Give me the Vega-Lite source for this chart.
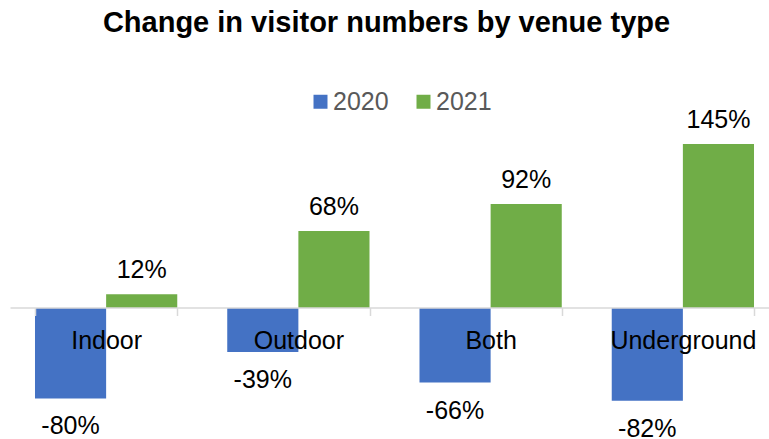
{
  "$schema": "https://vega.github.io/schema/vega-lite/v6.json",
  "width": 769,
  "height": 294,
  "autosize": {"type": "none"},
  "padding": {"left": 10, "top": 127, "right": 0, "bottom": 18},
  "background": "white",
  "title": {
    "text": "Change in visitor numbers by venue type",
    "font": "Liberation Sans",
    "fontSize": 29,
    "fontWeight": "bold",
    "color": "#000000",
    "anchor": "middle",
    "frame": "group",
    "dx": -8,
    "offset": 0,
    "dy": -51
  },
  "data": {
    "values": [
      {"venue": "Indoor", "year": "2020", "change": -0.80},
      {"venue": "Indoor", "year": "2021", "change": 0.12},
      {"venue": "Outdoor", "year": "2020", "change": -0.39},
      {"venue": "Outdoor", "year": "2021", "change": 0.68},
      {"venue": "Both", "year": "2020", "change": -0.66},
      {"venue": "Both", "year": "2021", "change": 0.92},
      {"venue": "Underground", "year": "2020", "change": -0.82},
      {"venue": "Underground", "year": "2021", "change": 1.45}
    ]
  },
  "encoding": {
    "x": {
      "field": "venue",
      "type": "nominal",
      "sort": ["Indoor", "Outdoor", "Both", "Underground"],
      "scale": {"paddingInner": 0.26, "paddingOuter": 0.13},
      "axis": {
        "title": null,
        "orient": "bottom",
        "offset": -113.5,
        "zindex": 1,
        "tickBand": "extent",
        "tickSize": 8,
        "tickColor": "#d9d9d9",
        "tickWidth": 1.5,
        "domainColor": "#d9d9d9",
        "domainWidth": 1.5,
        "labelAngle": 0,
        "labelFont": "Liberation Sans",
        "labelFontSize": 25,
        "labelColor": "#000000",
        "labelPadding": 13
      }
    },
    "xOffset": {"field": "year", "type": "nominal", "scale": {"paddingInner": 0, "paddingOuter": 0}},
    "y": {
      "field": "change",
      "type": "quantitative",
      "scale": {"domain": [-1.0, 1.6], "nice": false, "zero": true},
      "axis": null
    }
  },
  "layer": [
    {
      "mark": {"type": "bar"},
      "encoding": {
        "color": {
          "field": "year",
          "type": "nominal",
          "scale": {"domain": ["2020", "2021"], "range": ["#4472C4", "#70AD47"]},
          "legend": {
            "title": null,
            "orient": "none",
            "legendX": 298,
            "legendY": -38,
            "direction": "horizontal",
            "symbolType": "square",
            "symbolSize": 196,
            "symbolStrokeWidth": 0,
            "labelFont": "Liberation Sans",
            "labelFontSize": 25,
            "labelColor": "#595959",
            "labelOffset": 0,
            "columnPadding": 22
          }
        }
      }
    },
    {
      "transform": [{"filter": "datum.year === '2021'"}],
      "mark": {"type": "text", "font": "Liberation Sans", "fontSize": 25, "color": "#000000", "baseline": "alphabetic", "dy": -16},
      "encoding": {"text": {"field": "change", "type": "quantitative", "format": ".0%"}}
    },
    {
      "transform": [{"filter": "datum.year === '2020'"}],
      "mark": {"type": "text", "font": "Liberation Sans", "fontSize": 25, "color": "#000000", "baseline": "alphabetic", "dy": 36},
      "encoding": {"text": {"field": "change", "type": "quantitative", "format": ".0%"}}
    }
  ],
  "config": {
    "view": {"stroke": null},
    "locale": {
      "number": {"decimal": ".", "thousands": ",", "grouping": [3], "currency": ["$", ""], "minus": "-"}
    }
  }
}
